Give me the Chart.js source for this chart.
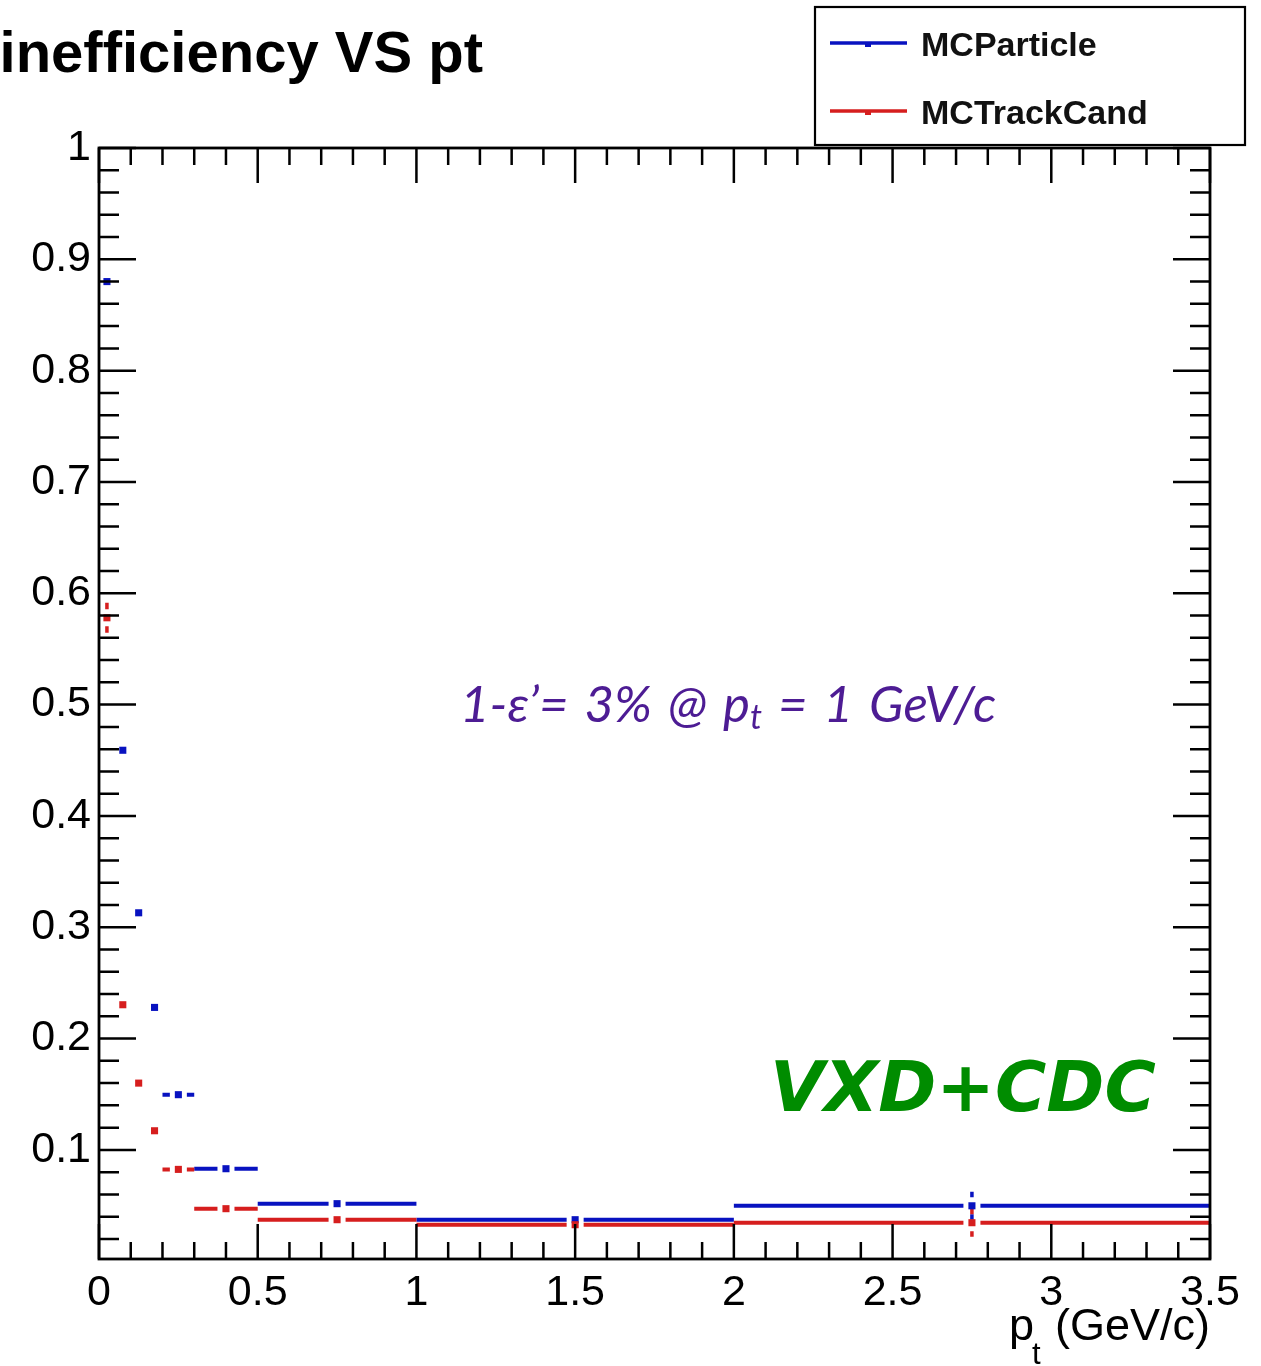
<!DOCTYPE html>
<html><head><meta charset="utf-8">
<script src="https://cdn.jsdelivr.net/npm/chart.js@4.4.0/dist/chart.umd.min.js"></script>
<style>html,body{margin:0;padding:0;background:#fff;} #wrap{width:1261px;height:1366px;position:relative;}</style>
</head><body><div id="wrap"><canvas id="c"></canvas></div>
<script>
// ---- data ----
const binLow  = [0, 0.05, 0.10, 0.15, 0.20, 0.30, 0.50, 1.00, 2.00];
const binHigh = [0.05, 0.10, 0.15, 0.20, 0.30, 0.50, 1.00, 2.00, 3.50];
const mcParticle     = [0.880, 0.459, 0.313, 0.228, 0.1496, 0.0831, 0.0517, 0.0373, 0.0498];
const mcParticleErr  = [0.005, 0.006, 0.006, 0.006, 0.005, 0.004, 0.003, 0.004, 0.0126];
const mcTrackCand    = [0.578, 0.2304, 0.160, 0.1172, 0.0825, 0.0472, 0.0373, 0.0328, 0.0346];
const mcTrackCandErr = [0.0135, 0.006, 0.006, 0.005, 0.004, 0.003, 0.003, 0.005, 0.0126];
const seriesNames = ['MCParticle', 'MCTrackCand'];
const xTickValues = [0, 0.5, 1, 1.5, 2, 2.5, 3, 3.5];
const xTickLabels = ['0', '0.5', '1', '1.5', '2', '2.5', '3', '3.5'];
const yTickValues = [0.1, 0.2, 0.3, 0.4, 0.5, 0.6, 0.7, 0.8, 0.9, 1];
const yTickLabels = ['0.1', '0.2', '0.3', '0.4', '0.5', '0.6', '0.7', '0.8', '0.9', '1'];
const titleText = 'inefficiency VS pt';
const annotationMain = '1-ε’= 3% @ p';
const annotationSub = 't';
const annotationTail = ' = 1 GeV/c';
const badgeText = 'VXD+CDC';

const BLUE = '#0812c0';
const RED = '#d61e1e';

function points(vals) {
  return binLow.map((lo, i) => ({ x: (lo + binHigh[i]) / 2, y: vals[i] }));
}

const errorBars = {
  id: 'errorBars',
  beforeDatasetsDraw(chart) {
    const { ctx, scales: { x, y } } = chart;
    const gap = 8.5;
    chart.data.datasets.forEach(ds => {
      ctx.save();
      ctx.strokeStyle = ds.borderColor;
      ctx.lineCap = 'butt';
      ds.data.forEach((p, i) => {
        const px = x.getPixelForValue(p.x), py = y.getPixelForValue(p.y);
        const xl = x.getPixelForValue(ds.binLow[i]), xh = x.getPixelForValue(ds.binHigh[i]);
        ctx.lineWidth = 4;
        ctx.beginPath();
        if (px - gap > xl) { ctx.moveTo(xl, py); ctx.lineTo(px - gap, py); }
        if (px + gap < xh) { ctx.moveTo(px + gap, py); ctx.lineTo(xh, py); }
        ctx.stroke();
        const yt = y.getPixelForValue(p.y + ds.err[i]), yb = y.getPixelForValue(p.y - ds.err[i]);
        ctx.lineWidth = 3.5;
        ctx.beginPath();
        if (py - gap > yt) { ctx.moveTo(px, yt); ctx.lineTo(px, py - gap); }
        if (py + gap < yb) { ctx.moveTo(px, py + gap); ctx.lineTo(px, yb); }
        ctx.stroke();
      });
      ctx.restore();
    });
  }
};

const decorations = {
  id: 'decorations',
  afterDraw(chart) {
    const { ctx, chartArea: a, scales: { x, y } } = chart;
    ctx.save();
    ctx.strokeStyle = '#000';
    ctx.lineWidth = 2.5;
    ctx.beginPath();
    for (let k = 0; k <= 35; k++) {
      const px = x.getPixelForValue(k / 10);
      const len = (k % 5 === 0) ? 35 : 17;
      ctx.moveTo(px, a.bottom); ctx.lineTo(px, a.bottom - len);
      ctx.moveTo(px, a.top); ctx.lineTo(px, a.top + len);
    }
    for (let k = 1; k <= 50; k++) {
      const v = k / 50;
      if (v < y.min) continue;
      const py = y.getPixelForValue(v);
      const len = (k % 5 === 0) ? 37 : 20;
      ctx.moveTo(a.left, py); ctx.lineTo(a.left + len, py);
      ctx.moveTo(a.right, py); ctx.lineTo(a.right - len, py);
    }
    ctx.stroke();
    ctx.lineWidth = 2.8;
    ctx.strokeRect(a.left, a.top, a.right - a.left, a.bottom - a.top);

    // x axis title p_t (GeV/c)
    ctx.fillStyle = '#000';
    ctx.textBaseline = 'alphabetic';
    ctx.font = '45px "Liberation Sans", Arial, sans-serif';
    ctx.textAlign = 'right';
    ctx.fillText('(GeV/c)', a.right, 1340);
    ctx.textAlign = 'left';
    ctx.fillText('p', 1009, 1340);
    ctx.font = '31px "Liberation Sans", Arial, sans-serif';
    ctx.fillText('t', 1032, 1364);

    // title
    ctx.font = 'bold 58px "Liberation Sans", Arial, sans-serif';
    ctx.textAlign = 'right';
    ctx.fillText(titleText, 483, 72);

    // annotation
    ctx.fillStyle = '#4d1c94';
    ctx.textAlign = 'left';
    ctx.wordSpacing = '4px';
    ctx.font = 'italic 51px Lato, "Open Sans", sans-serif';
    let ax = 460;
    ctx.fillText(annotationMain, ax, 722);
    ax += ctx.measureText(annotationMain).width;
    ctx.font = 'italic 34px Lato, "Open Sans", sans-serif';
    ctx.fillText(annotationSub, ax, 729);
    ax += ctx.measureText(annotationSub).width;
    ctx.font = 'italic 51px Lato, "Open Sans", sans-serif';
    ctx.fillText(annotationTail, ax, 722);
    ctx.wordSpacing = '0px';

    // VXD+CDC
    ctx.fillStyle = '#008c00';
    ctx.font = 'italic bold 70px "DejaVu Sans", sans-serif';
    ctx.fillText(badgeText, 770, 1111);

    // legend
    ctx.fillStyle = '#fff';
    ctx.fillRect(815, 7, 430, 138);
    ctx.strokeStyle = '#000';
    ctx.lineWidth = 2.2;
    ctx.strokeRect(815, 7, 430, 138);
    const rows = [43, 111];
    chart.data.datasets.forEach((ds, i) => {
      const ly = rows[i];
      ctx.strokeStyle = ds.borderColor;
      ctx.lineWidth = 3.5;
      ctx.beginPath(); ctx.moveTo(830, ly); ctx.lineTo(907, ly); ctx.stroke();
      ctx.fillStyle = ds.borderColor;
      ctx.fillRect(865, ly, 6, 4);
      ctx.fillStyle = '#111';
      ctx.font = 'bold 34px "Liberation Sans", Arial, sans-serif';
      ctx.fillText(ds.label, 921, ly + 13);
    });
    ctx.restore();
  }
};

const chart = new Chart(document.getElementById('c'), {
  type: 'scatter',
  data: {
    datasets: [
      { label: seriesNames[0], data: points(mcParticle), binLow, binHigh, err: mcParticleErr,
        borderColor: BLUE, backgroundColor: BLUE, pointStyle: 'rect', pointRadius: 5, pointBorderWidth: 0, order: 2 },
      { label: seriesNames[1], data: points(mcTrackCand), binLow, binHigh, err: mcTrackCandErr,
        borderColor: RED, backgroundColor: RED, pointStyle: 'rect', pointRadius: 5, pointBorderWidth: 0, order: 1 }
    ]
  },
  options: {
    responsive: true,
    maintainAspectRatio: false,
    animation: false,
    layout: { padding: { left: 0, top: 148, right: 51, bottom: 0 } },
    plugins: { legend: { display: false }, tooltip: { enabled: false } },
    scales: {
      x: {
        type: 'linear', min: 0, max: 3.5, position: 'bottom',
        grid: { display: false }, border: { display: false },
        afterBuildTicks: s => { s.ticks = xTickValues.map(v => ({ value: v })); },
        afterFit: s => { s.height = 107; },
        ticks: { autoSkip: false, maxRotation: 0, padding: 0, color: '#000',
          font: { family: '"Liberation Sans", Arial, sans-serif', size: 43 },
          callback: (v, i) => xTickLabels[i] }
      },
      y: {
        type: 'linear', min: 0.002, max: 1,
        grid: { display: false }, border: { display: false },
        afterBuildTicks: s => { s.ticks = yTickValues.map(v => ({ value: v })); },
        afterFit: s => { s.width = 99; },
        ticks: { autoSkip: false, padding: 0, color: '#000',
          font: { family: '"Liberation Sans", Arial, sans-serif', size: 43 },
          callback: (v, i) => yTickLabels[i] }
      }
    }
  },
  plugins: [errorBars, decorations]
});
</script></body></html>
